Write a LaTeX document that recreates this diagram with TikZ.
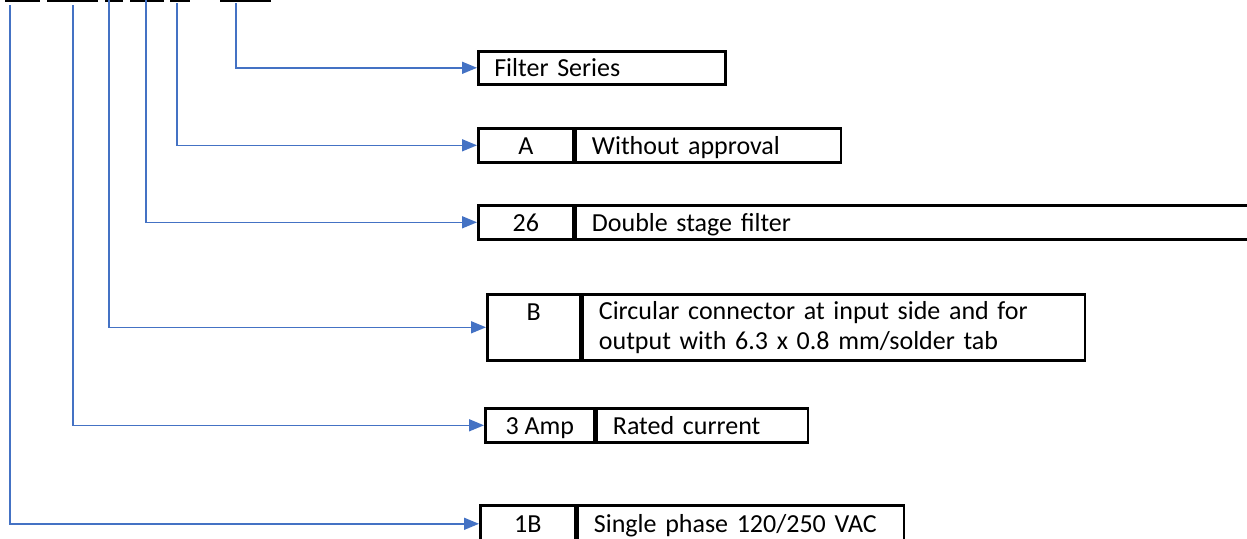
\documentclass[tikz,border=0pt]{standalone}
\usepackage{fontspec}
\setmainfont{Carlito}
\usepackage{xcolor}
\usetikzlibrary{arrows.meta,positioning}

\definecolor{lineblue}{HTML}{4472C4}

\tikzset{
    cell/.style={draw=black, line width=2.6pt, inner xsep=0pt, inner ysep=0pt,
        font=\fontsize{26}{30}\selectfont, anchor=north west},
    onerow/.style={text height=20pt, text depth=2pt},
    desc/.style={cell, align=left, inner xsep=16pt},
    conn/.style={draw=lineblue, line width=1.6pt, -{Triangle[length=15pt,width=12pt]}},
}

\begin{document}
\begin{tikzpicture}[x=1pt, y=-1pt]
    \useasboundingbox (0,0) rectangle (1247,538);
    \clip (0,0) rectangle (1247,538);

    % part number blanks
    \foreach \a/\b in {5/40, 47/98, 105/123, 130/164, 170/190, 220/271}
        \draw[line width=3pt] (\a,0) -- (\b,0);

    % start of each leader
    \coordinate (sPhase) at (10,5);
    \coordinate (sCurrent) at (73,5);
    \coordinate (sConnector) at (109,0);
    \coordinate (sStage) at (146,0);
    \coordinate (sApproval) at (177,3);
    \coordinate (sSeries) at (236,3);

    % boxes
    \node[desc, onerow, minimum width=247pt, minimum height=33pt, text width=215pt]
        (series) at (477,50) {Filter Series};

    \node[cell, onerow, minimum width=95pt, minimum height=34pt] (codeA) at (477,127) {A};
    \node[desc, onerow, minimum width=265pt, minimum height=34pt, text width=233pt]
        (descA) at (codeA.north east) {Without approval};

    \node[cell, onerow, minimum width=95pt, minimum height=34pt] (code26) at (477,204) {26};
    \node[desc, onerow, minimum width=700pt, minimum height=34pt, text width=668pt]
        (desc26) at (code26.north east) {Double stage filter};

    \node[cell, align=center, minimum width=93pt, minimum height=66pt] (codeB) at (486,293) {B\\\mbox{}};
    \node[desc, minimum width=502pt, minimum height=66pt, text width=470pt]
        (descB) at (codeB.north east) {Circular connector at input side and for\\output with 6.3 x 0.8 mm/solder tab};

    \node[cell, onerow, minimum width=109pt, minimum height=34pt] (codeAmp) at (484,407) {3 Amp};
    \node[desc, onerow, minimum width=211pt, minimum height=34pt, text width=179pt]
        (descAmp) at (codeAmp.north east) {Rated current};

    \node[cell, onerow, minimum width=95pt, minimum height=37pt] (code1B) at (479,504) {1B};
    \node[desc, onerow, minimum width=326pt, minimum height=37pt, text width=294pt]
        (desc1B) at (code1B.north east) {Single phase 120/250 VAC};

    % leaders
    \draw[conn] (sSeries) |- (series.west);
    \draw[conn] (sApproval) |- (codeA.west);
    \draw[conn] (sStage) |- (code26.west);
    \draw[conn] (sConnector) |- (codeB.west);
    \draw[conn] (sCurrent) |- (codeAmp.west);
    \draw[conn] (sPhase) |- (code1B.west);
\end{tikzpicture}
\end{document}
